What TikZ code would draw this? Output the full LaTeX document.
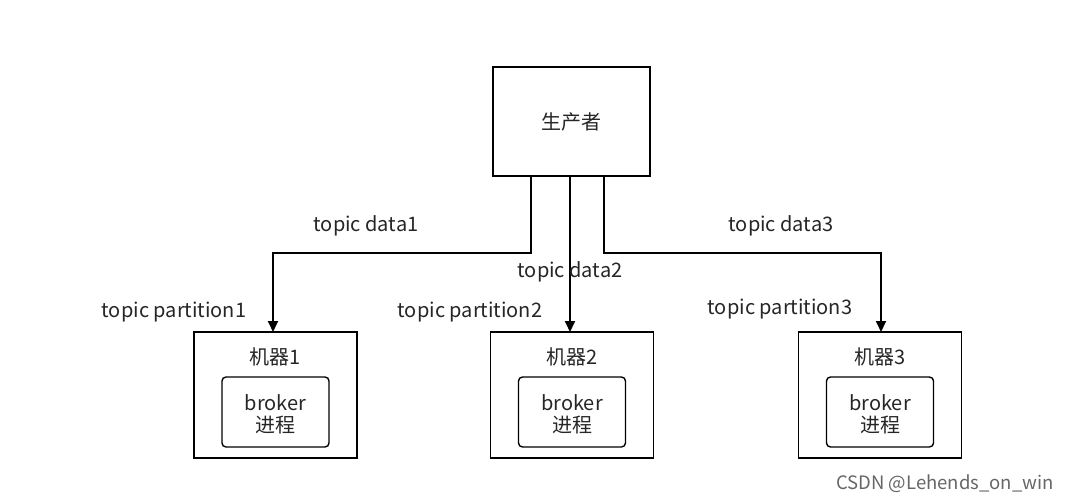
\documentclass[tikz,border=0pt]{standalone}
\usepackage{fontspec}
\setmainfont{Noto Sans CJK SC}
\usetikzlibrary{arrows.meta}
\begin{document}
\begin{tikzpicture}[x=1pt,y=-1pt,
  box/.style={draw,line width=1.4pt,inner sep=0pt},
  inner/.style={draw,line width=1.4pt,rounded corners=4pt,inner sep=0pt},
  lab/.style={font=\fontsize{20}{24}\selectfont,text=black!85},
  arr/.style={line width=1.8pt,-{Triangle[length=11pt,width=10pt]}}]
\useasboundingbox (0,0) rectangle (1068,503);
\node[box,minimum width=157pt,minimum height=109pt] (p) at (571.5,121.5) {};
\node[lab] at (571,122) {生产者};
\foreach \i/\x in {1/275.5,2/572,3/880}{
  \node[box,minimum width=163pt,minimum height=126pt] (m\i) at (\x,395) {};
  \node[lab] at (\x,357) {机器\i};
  \node[inner,minimum width=107pt,minimum height=70pt] (b\i) at (\x,412) {};
  \node[lab,align=center] at (\x,414) {broker\\[-2pt]进程};
}
\coordinate (a1) at (531,176);
\coordinate (a2) at (570,176);
\coordinate (a3) at (604,176);
\draw[arr] (a1) -- (531,253) -- (273,253) -- (273,332);
\draw[arr] (a2) -- (570,332);
\draw[arr] (a3) -- (604,253) -- (881,253) -- (881,332);
\node[lab] at (366,226) {topic data1};
\node[lab] at (570,272) {topic data2};
\node[lab] at (781,226) {topic data3};
\node[lab] at (174,312) {topic partition1};
\node[lab] at (470,312) {topic partition2};
\node[lab] at (780,309) {topic partition3};
\node[font=\fontsize{18.5}{22}\selectfont,text=black!60] at (945,484) {CSDN @Lehends\_on\_win};
\end{tikzpicture}
\end{document}
